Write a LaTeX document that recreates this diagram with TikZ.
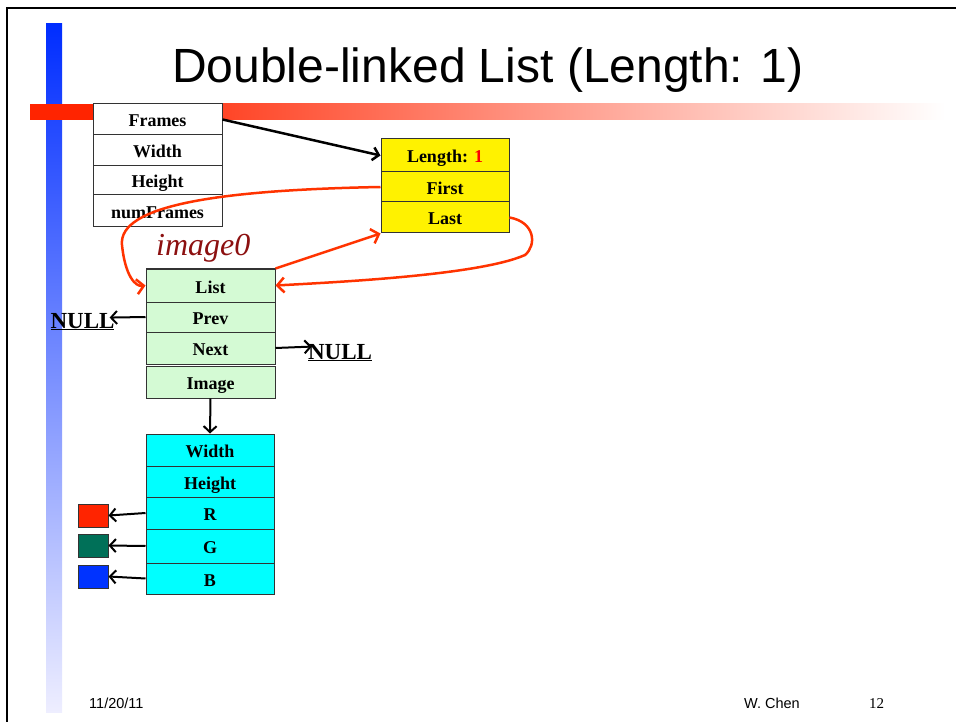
\documentclass[tikz,border=0pt]{standalone}
\usepackage{fontspec}
\setmainfont{Liberation Serif}
\setsansfont{Liberation Sans}
\usepackage{xcolor}
\usetikzlibrary{arrows.meta}

\definecolor{barred}{RGB}{255,36,0}
\definecolor{barblue}{RGB}{0,45,255}
\definecolor{barpale}{RGB}{238,238,255}
\definecolor{linkred}{RGB}{255,51,0}
\definecolor{cellgreen}{RGB}{212,250,212}
\definecolor{cellcyan}{RGB}{0,255,255}
\definecolor{darkgreen}{RGB}{0,112,88}
\definecolor{swatchblue}{RGB}{0,51,255}
\definecolor{labelred}{RGB}{140,16,16}

\begin{document}
\begin{tikzpicture}[x=1pt,y=-1pt,
  cell/.style={draw=black!80, line width=1pt, minimum width=129pt, minimum height=31pt,
    inner sep=0pt, text height=15pt, text depth=0pt, font=\bfseries\fontsize{18}{18}\selectfont},
  swatch/.style={draw=black!80, line width=1pt, minimum width=30pt, minimum height=23pt, inner sep=0pt},
  nullnode/.style={font=\bfseries\fontsize{23}{23}\selectfont, inner sep=0pt, anchor=base},
  ptr/.style={draw=black, line width=2pt, -{Straight Barb[length=6pt,width=13pt]}},
  link/.style={draw=linkred, line width=2.5pt, -{Straight Barb[length=7pt,width=15pt]}},
  foot/.style={font=\sffamily\fontsize{14.5}{14.5}\selectfont, inner sep=0pt, anchor=base west}]

\useasboundingbox (0,0) rectangle (956,722);

%%    SLIDE    %%
\shade[top color=barblue, bottom color=barpale] (46,24) rectangle (62,712);
\fill[barred] (30,104) rectangle (93,120);
\shade[left color=barred, right color=white] (93,104) rectangle (945,120);
\draw[line width=2pt] (7,722) -- (7,8) -- (956,8);

\node[font=\sffamily\fontsize{48}{48}\selectfont, anchor=base] (title) at (488,83) {Double-linked List (Length: 1)};

%%    NODES   %%
\node[cell, fill=white] (frames) at (157.5,119.5) {Frames};
\node[cell, fill=white] (width) at (157.5,150.5) {Width};
\node[cell, fill=white, minimum height=29pt] (height) at (157.5,180.5) {Height};
\node[cell, fill=white, minimum height=32pt] (numframes) at (157.5,211) {numFrames};

\node[cell, fill=yellow, minimum width=128pt, minimum height=33pt] (length) at (445,155.5) {Length: \textcolor{red}{1}};
\node[cell, fill=yellow, minimum width=128pt, minimum height=30pt] (first) at (445,187) {First};
\node[cell, fill=yellow, minimum width=128pt] (last) at (445,217.5) {Last};

\node[font=\itshape\fontsize{32}{32}\selectfont, text=labelred, inner sep=0pt, anchor=base west] (image0) at (156,255) {image0};

\node[cell, fill=cellgreen, minimum height=33pt] (list) at (210.5,285.5) {List};
\node[cell, fill=cellgreen, minimum height=30pt] (prev) at (210.5,317) {Prev};
\node[cell, fill=cellgreen, minimum height=32pt] (next) at (210.5,348) {Next};
\node[cell, fill=cellgreen, minimum height=32pt] (image) at (210.5,382) {Image};

\node[nullnode] (nullprev) at (82.5,328) {\underline{NULL}};
\node[nullnode] (nullnext) at (340,359) {\underline{NULL}};

\node[cell, fill=cellcyan, minimum width=128pt, minimum height=32pt] (cwidth) at (210,450) {Width};
\node[cell, fill=cellcyan, minimum width=128pt] (cheight) at (210,481.5) {Height};
\node[cell, fill=cellcyan, minimum width=128pt, minimum height=32pt] (r) at (210,513) {R};
\node[cell, fill=cellcyan, minimum width=128pt, minimum height=34pt] (g) at (210,546) {G};
\node[cell, fill=cellcyan, minimum width=128pt] (b) at (210,578.5) {B};

\node[swatch, fill=barred] (redsq) at (93,515.5) {};
\node[swatch, fill=darkgreen] (greensq) at (93,545.5) {};
\node[swatch, fill=swatchblue] (bluesq) at (93,576.5) {};

\node[foot] (date) at (89,708) {11/20/11};
\node[foot] (author) at (744,708) {W. Chen};
\node[foot, font=\fontsize{15}{15}\selectfont] (page) at (869,708) {12};

%%    ARROWS    %%
\draw[ptr, line width=2.5pt] (frames.east) -- (length.west);
\draw[ptr] (prev.west) -- ([xshift=-5pt,yshift=4pt]nullprev.east);
\draw[ptr] (next.east) -- ([xshift=4pt,yshift=6pt]nullnext.west);
\draw[ptr] (image.south) -- (cwidth.north);
\draw[ptr] (r.west) -- (redsq.east);
\draw[ptr] (g.west) -- (greensq.east);
\draw[ptr] (b.west) -- (bluesq.east);

\draw[link] (first.west) .. controls (220,190) and (118,205) .. (122,245)
  .. controls (125,275) and (135,287) .. (list.west);
\draw[link] (list.north east) -- (last.south west);
\draw[link] (last.east) .. controls (535,222) and (537,245) .. (525,255)
  .. controls (480,275) and (340,282) .. (list.east);

\end{tikzpicture}
\end{document}
